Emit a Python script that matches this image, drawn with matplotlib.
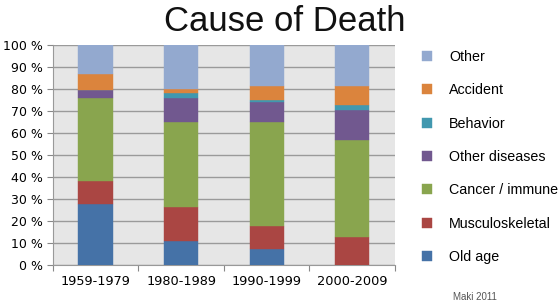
import numpy as np
import matplotlib.pyplot as plt

# data (percent of deaths per period)
periods = ["1959-1979", "1980-1989", "1990-1999", "2000-2009"]
causes = ["Old age", "Musculoskeletal", "Cancer / immune", "Other diseases",
          "Behavior", "Accident", "Other"]
old_age = [27.8, 11.0, 7.1, 0.0]
musculoskeletal = [10.2, 15.5, 10.7, 12.7]
cancer_immune = [38.0, 38.5, 47.0, 44.2]
other_diseases = [3.4, 10.7, 9.1, 13.5]
behavior = [0.0, 2.2, 1.1, 2.2]
accident = [7.2, 2.1, 6.4, 8.8]
other = [13.4, 20.0, 18.6, 18.6]

colors = ["#4572A7", "#AA4643", "#89A54E", "#71588F",
          "#4198AF", "#DB843D", "#93A9CF"]

series = [old_age, musculoskeletal, cancer_immune, other_diseases,
          behavior, accident, other]

fig = plt.figure(figsize=(5.59, 3.05), dpi=100)
ax = fig.add_axes([0.0943, 0.1311, 0.6123, 0.7223])
ax.set_facecolor("#e6e6e6")

x = np.arange(len(periods))
bottom = np.zeros(len(periods))
handles = []
for vals, col, name in zip(series, colors, causes):
    b = ax.bar(x, vals, width=0.40, bottom=bottom, color=col,
               edgecolor=col, linewidth=0.3, label=name, zorder=3)
    handles.append(b)
    bottom += np.array(vals)

ax.set_xlim(-0.5, 3.5)
ax.set_ylim(0, 100)
ax.set_yticks(np.arange(0, 101, 10))
ax.set_yticklabels([f"{v} %" for v in range(0, 101, 10)], fontsize=9)
ax.yaxis.grid(True, color="#9a9a9a", linewidth=1.0, zorder=0)
ax.set_axisbelow(True)

# category boundaries as ticks, labels centred on bars
ax.set_xticks(np.arange(-0.5, 4, 1))
ax.set_xticklabels([])
ax.set_xticks(x, minor=True)
ax.set_xticklabels(periods, minor=True, fontsize=9.3)
ax.tick_params(axis="x", which="minor", length=0, pad=7)
ax.tick_params(axis="x", which="major", length=4, color="#888888")
ax.tick_params(axis="y", length=4, color="#888888", pad=3)

for s in ["top", "right"]:
    ax.spines[s].set_visible(False)
for s in ["left", "bottom"]:
    ax.spines[s].set_color("#999999")

fig.text(0.51, 0.93, "Cause of Death", fontsize=25, ha="center", va="center",
         family="Liberation Sans", color="#111111")

leg = fig.legend(handles[::-1], causes[::-1], loc="center left",
                 bbox_to_anchor=(0.745, 0.485), frameon=False,
                 prop={"family": "Liberation Sans", "size": 10.3},
                 handlelength=0.7, handleheight=0.7, handletextpad=1.2,
                 labelspacing=1.35, borderaxespad=0)

fig.text(0.85, 0.027, "Maki 2011", fontsize=7, color="#555555", ha="center",
         va="center", family="Liberation Sans")

plt.savefig("out.png", dpi=100)
